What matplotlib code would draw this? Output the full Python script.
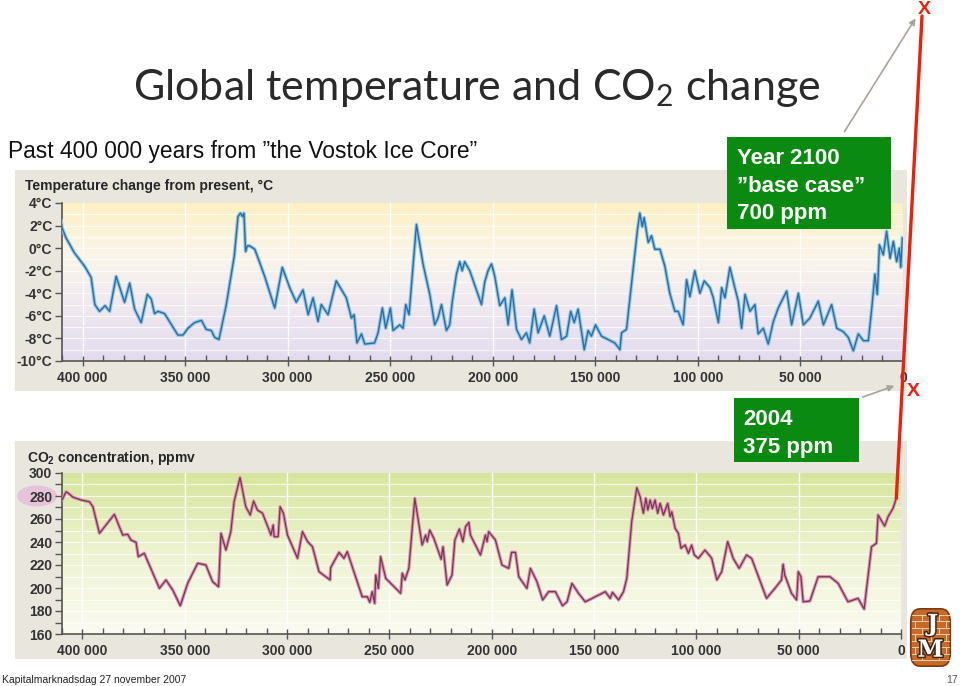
import numpy as np
import matplotlib.pyplot as plt
from matplotlib.colors import LinearSegmentedColormap
from matplotlib.patches import Rectangle, FancyBboxPatch, FancyArrowPatch, ConnectionPatch, Ellipse
from matplotlib.ticker import MultipleLocator, FuncFormatter
import matplotlib.patheffects as pe

plt.rcParams['mathtext.fontset'] = 'custom'
plt.rcParams['mathtext.rm'] = 'Lato'
plt.rcParams['mathtext.bf'] = 'Liberation Sans:bold'

W, H = 960, 686

# Vostok temperature, thousand years before present / deg C
temp_kyr = [410.4, 410.0, 408.0, 404.0, 399.0, 395.8, 394.0, 391.7, 389.0, 386.8,
            383.6, 379.5, 377.0, 374.6, 371.4, 368.4, 366.5, 364.9, 363.2, 360.0,
            357.6, 353.5, 351.0, 348.6, 345.4, 342.0, 339.7, 337.2, 335.6, 333.5,
            330.0, 326.0, 324.2, 323.0, 322.0, 321.3, 320.5, 319.7, 318.5, 316.0,
            311.2, 306.3, 302.6, 299.0, 295.8, 292.5, 290.0, 287.6, 285.2, 283.6,
            280.3, 276.3, 271.4, 268.9, 267.6, 266.2, 264.0, 262.4, 257.6, 255.9,
            253.8, 252.2, 251.0, 249.9, 248.6, 245.4, 243.7, 242.4, 240.8, 237.2,
            234.0, 230.7, 228.3, 226.7, 225.0, 222.6, 221.0, 219.7, 217.7, 216.1,
            214.9, 213.7, 211.2, 208.0, 205.5, 203.9, 202.3, 200.6, 199.0, 196.6,
            194.1, 192.5, 190.6, 188.4, 186.0, 183.6, 182.0, 179.8, 177.9, 174.9,
            172.2, 168.9, 166.5, 164.0, 162.0, 160.3, 158.4, 155.4, 153.5, 151.9,
            149.9, 147.0, 143.7, 140.5, 138.0, 137.2, 134.8, 132.3, 130.7, 129.4,
            128.3, 127.1, 126.2, 124.2, 122.6, 121.0, 118.5, 116.1, 113.7, 111.2,
            109.6, 107.2, 105.5, 103.9, 101.5, 99.0, 96.9, 94.1, 92.5, 90.0,
            88.4, 86.8, 84.4, 82.0, 80.3, 78.7, 77.0, 74.6, 72.2, 70.6,
            68.1, 65.7, 63.2, 60.8, 56.7, 54.3, 51.0, 48.6, 45.4, 41.3,
            38.8, 34.8, 32.3, 29.1, 26.7, 24.2, 21.8, 19.3, 16.9, 15.2,
            13.7, 12.5, 11.5, 9.6, 8.0, 6.3, 4.7, 3.1, 1.8, 1.1, 0.3]
temp_c = [2.4, 1.8, 0.9, -0.4, -1.6, -2.6, -5.0, -5.6, -5.1, -5.6,
          -2.5, -4.8, -3.1, -5.4, -6.6, -4.1, -4.5, -5.8, -5.6, -5.8,
          -6.5, -7.7, -7.7, -7.1, -6.6, -6.4, -7.2, -7.3, -7.9, -8.1,
          -5.1, -0.7, 2.8, 3.1, 2.8, 3.1, -0.3, 0.2, 0.2, -0.1,
          -2.5, -5.3, -1.7, -3.5, -4.8, -3.7, -5.9, -4.4, -6.5, -5.0,
          -5.9, -2.9, -4.4, -6.2, -5.9, -8.4, -7.6, -8.5, -8.4, -7.5,
          -5.3, -7.1, -6.2, -5.3, -7.3, -6.8, -7.1, -5.0, -5.9, 2.1,
          -1.4, -4.1, -6.8, -6.2, -5.0, -7.3, -6.8, -4.7, -2.3, -1.2,
          -2.0, -1.2, -2.0, -3.7, -5.0, -3.0, -2.0, -1.4, -2.5, -5.1,
          -4.4, -6.8, -3.7, -7.2, -8.1, -7.5, -8.4, -5.4, -7.5, -6.0,
          -7.8, -5.1, -8.1, -7.8, -5.6, -6.6, -5.4, -9.0, -7.3, -7.8,
          -6.8, -7.8, -8.1, -8.4, -9.0, -7.5, -7.2, -3.1, -0.4, 1.7,
          3.1, 1.9, 2.7, 0.5, 1.1, -0.1, -0.1, -1.6, -4.0, -5.6,
          -5.6, -6.8, -2.8, -4.3, -2.0, -4.0, -2.9, -3.5, -4.4, -6.6,
          -3.5, -4.4, -1.7, -3.5, -4.7, -7.1, -4.1, -5.6, -5.0, -7.6,
          -7.1, -8.5, -6.5, -5.3, -3.8, -6.8, -4.0, -6.8, -6.2, -4.7,
          -6.8, -5.0, -7.1, -7.4, -7.9, -9.1, -7.6, -8.2, -8.2, -5.3,
          -2.3, -4.1, 0.3, -0.6, 1.5, -0.9, 0.6, -1.2, 0.0, -1.7, 0.9]

# Vostok CO2, thousand years before present / ppmv
co2_kyr = [411.2, 410.0, 408.0, 406.8, 404.7, 400.6, 396.6, 394.9, 391.7, 384.4,
           380.3, 377.9, 376.3, 373.8, 372.7, 369.8, 362.4, 359.2, 355.9, 352.2,
           348.6, 343.7, 339.7, 336.4, 333.5, 332.3, 329.9, 327.5, 325.9, 323.0,
           320.2, 318.0, 316.4, 314.5, 312.0, 308.8, 307.9, 306.8, 306.3, 304.4,
           303.4, 301.8, 299.8, 294.9, 292.5, 290.0, 287.6, 284.4, 279.0, 278.7,
           274.6, 272.2, 270.6, 263.3, 260.8, 259.6, 258.4, 257.2, 256.7, 255.4,
           254.3, 251.8, 244.5, 243.7, 242.4, 240.5, 237.6, 234.0, 232.3, 231.5,
           230.3, 228.3, 224.7, 223.8, 221.8, 219.4, 218.0, 215.8, 214.1, 212.8,
           211.2, 210.4, 205.5, 203.1, 202.3, 201.5, 198.2, 195.0, 191.7, 190.3,
           188.4, 186.8, 182.8, 181.1, 177.9, 175.1, 172.2, 168.9, 165.4, 163.2,
           160.8, 157.6, 154.3, 149.4, 144.5, 142.1, 141.0, 138.0, 135.6, 134.0,
           131.6, 129.1, 127.5, 125.9, 124.7, 123.7, 122.6, 121.5, 120.2, 118.9,
           117.7, 116.1, 114.0, 112.8, 112.0, 110.4, 108.8, 107.5, 105.5, 103.9,
           102.3, 101.0, 99.0, 95.8, 92.5, 90.0, 87.6, 84.7, 82.0, 79.1,
           75.5, 73.0, 65.7, 61.6, 58.4, 57.6, 56.8, 53.5, 51.0, 50.2,
           48.9, 47.8, 44.5, 40.5, 34.7, 30.7, 25.9, 21.0, 18.0, 14.4,
           12.0, 11.2, 8.0, 6.3, 3.9, 2.3]
co2_ppm = [278, 276.5, 283.7, 282.3, 279, 276.5, 275, 270.7, 247.6, 264,
           246, 246.7, 241.7, 239.7, 227.2, 230.2, 199.7, 207, 198.3, 184.6,
           204, 221.5, 220, 205.5, 201.1, 247.6, 233, 249, 275, 296,
           270.7, 263.5, 275.6, 267.8, 265, 250.4, 246, 254.8, 244.6, 244.6,
           270.7, 265, 246, 225.8, 249, 240.3, 235.9, 214.2, 207, 217.7,
           231, 225.8, 231.6, 192.4, 192.4, 187.6, 196.8, 186.7, 211.3, 199.7,
           227.2, 208.4, 195.4, 212.8, 207, 217.1, 278, 237.4, 246, 240.3,
           250.4, 243.2, 225, 235.9, 202.6, 211.3, 241.7, 251.3, 240.3, 253.3,
           257.1, 246, 228.7, 246, 240.3, 249, 241.7, 220, 217.1, 231,
           231, 209.8, 199.7, 217.1, 205.5, 189.6, 196.8, 196.8, 184.6, 188,
           204, 195.4, 188, 192.4, 196.8, 191, 196.2, 189.6, 196.8, 208.4,
           257.7, 287.2, 279.4, 265, 278, 267.8, 276.5, 269, 276.5, 265,
           273.6, 263.5, 273.6, 262, 266.3, 251.9, 247.6, 234.5, 237.4, 230.2,
           237.4, 228.7, 225.8, 233, 225.8, 207, 214.2, 240.3, 225.8, 217.1,
           228.7, 225.8, 191, 199.7, 207, 220.6, 211.3, 195.4, 189.6, 214.2,
           209.8, 188, 188.7, 209.8, 209.8, 204, 188, 191, 181.7, 235.9,
           238.9, 263.5, 253.9, 262, 269.3, 278]

x_ticks = [400000, 350000, 300000, 250000, 200000, 150000, 100000, 50000, 0]
temp_ticks = [4, 2, 0, -2, -4, -6, -8, -10]
co2_ticks = [300, 280, 260, 240, 220, 200, 180, 160]


def rect(l, t, r, b):
    return [l / W, 1 - b / H, (r - l) / W, (b - t) / H]


def fx(x):
    return x / W


def fy(y):
    return 1 - y / H


fig = plt.figure(figsize=(9.6, 6.86), dpi=100, facecolor='white')

# grey panels behind the two charts
for t, b in [(170, 391), (441, 659)]:
    fig.add_artist(Rectangle((fx(15), fy(b)), fx(907) - fx(15), fy(t) - fy(b),
                             transform=fig.transFigure, facecolor='#e9e6de',
                             edgecolor='none', zorder=-3))

fig.add_artist(Ellipse((fx(37), fy(496)), 40 / W, 21 / H, transform=fig.transFigure,
                       facecolor='#e6c3d8', edgecolor='none', zorder=-2))

tick_font = dict(family='Liberation Sans', weight='bold', size=10)


def setup(ax, ylim, yticks, yfmt, colors, hgrid, minor_y=None):
    cmap = LinearSegmentedColormap.from_list('bg', colors)
    grad = np.linspace(0, 1, 256).reshape(-1, 1)
    ax.imshow(grad, extent=[410000, 0, ylim[0], ylim[1]], origin='lower',
              aspect='auto', cmap=cmap, zorder=0)
    ax.set_xlim(410000, 0)
    ax.set_ylim(*ylim)
    ax.patch.set_alpha(0)
    for v in hgrid:
        ax.axhline(v, color='white', lw=0.8, alpha=0.75, zorder=1)
    for v in x_ticks[:-1]:
        ax.axvline(v, color='white', lw=1.0, alpha=0.9, zorder=1)
    for s in ['top', 'right']:
        ax.spines[s].set_visible(False)
    for s in ['left', 'bottom']:
        ax.spines[s].set_color('#555555')
        ax.spines[s].set_linewidth(1.2)
    ax.set_xticks(x_ticks)
    ax.xaxis.set_minor_locator(MultipleLocator(10000))
    ax.xaxis.set_major_formatter(FuncFormatter(
        lambda v, p: '0' if v == 0 else f'{int(v / 1000)} 000'))
    ax.set_yticks(yticks)
    ax.yaxis.set_major_formatter(FuncFormatter(yfmt))
    if minor_y:
        ax.yaxis.set_minor_locator(MultipleLocator(minor_y))
    ax.tick_params(axis='x', which='major', direction='inout', length=7,
                   width=1, color='#555555', pad=4)
    ax.tick_params(axis='x', which='minor', direction='in', length=4,
                   width=1, color='#555555')
    ax.tick_params(axis='y', which='both', direction='out', length=5,
                   width=1, color='#555555', pad=2)
    for lab in ax.get_xticklabels() + ax.get_yticklabels():
        lab.set_fontproperties(tick_font)
        lab.set_color('#333333')


ax1 = fig.add_axes(rect(62, 203, 903, 361))
setup(ax1, (-10, 4), temp_ticks, lambda v, p: f'{int(v)}°C',
      ['#e2dbee', '#efe8f0', '#faf5ea', '#fdf0c4'], range(-9, 4))
x1 = np.array(temp_kyr) * 1000
ax1.plot(x1, temp_c, color='#8fc6ea', lw=2.6, solid_joinstyle='round', zorder=3)
ax1.plot(x1, temp_c, color='#2f6c9c', lw=1.0, solid_joinstyle='round', zorder=4)

ax2 = fig.add_axes(rect(62, 473, 901, 634))
setup(ax2, (160, 300), co2_ticks, lambda v, p: f'{int(v)}',
      ['#fbfbf2', '#eef3d2', '#d6e59c'], range(170, 300, 10), minor_y=10)
x2 = np.array(co2_kyr) * 1000
ax2.plot(x2, co2_ppm, color='#e58cb8', lw=2.4, solid_joinstyle='round', zorder=3)
ax2.plot(x2, co2_ppm, color='#6b3f4a', lw=0.9, solid_joinstyle='round', zorder=4)

label_font = dict(family='Liberation Sans', weight='bold', size=10, color='#262626')
fig.text(fx(25), fy(190), 'Temperature change from present, °C', **label_font)
fig.text(fx(27), fy(462), r'CO$_\mathbf{2}$ concentration, ppmv', **label_font)

# titles
fig.text(fx(477), fy(100), r'Global temperature and CO$_2$ change', family='Lato',
         size=31, color='#2a2a2a', ha='center', va='baseline')
fig.text(fx(8), fy(158), 'Past 400 000 years from \u201dthe Vostok Ice Core\u201d',
         family='Liberation Sans', size=16.4, color='#111111', va='baseline')

# green annotation boxes
green = '#0b8a12'
box_font = dict(family='Liberation Sans', weight='bold', size=16, color='white',
                va='baseline', zorder=8)
fig.add_artist(Rectangle((fx(727), fy(229)), fx(891) - fx(727), fy(137) - fy(229),
                         transform=fig.transFigure, facecolor=green,
                         edgecolor='none', zorder=7))
for i, line in enumerate(['Year 2100', '\u201dbase case\u201d', '700 ppm']):
    fig.text(fx(737), fy(164 + 27.5 * i), line, **box_font)

fig.add_artist(Rectangle((fx(734), fy(462)), fx(859) - fx(734), fy(398) - fy(462),
                         transform=fig.transFigure, facecolor=green,
                         edgecolor='none', zorder=7))
for i, line in enumerate(['2004', '375 ppm']):
    fig.text(fx(743), fy(425 + 27.5 * i), line, **box_font)

# red projection line from the last CO2 point to the 2100 mark
red = '#e8220c'
con = ConnectionPatch(xyA=(x2[-1], co2_ppm[-1]), coordsA=ax2.transData,
                      xyB=(fx(922), fy(16)), coordsB=fig.transFigure,
                      color=red, lw=2.4, zorder=6)
fig.add_artist(con)

for (xa, ya), (xb, yb) in [((843, 134), (917, 16)), ((860, 398), (897, 385))]:
    fig.add_artist(FancyArrowPatch((fx(xa), fy(ya)), (fx(xb), fy(yb)),
                                   transform=fig.transFigure, arrowstyle='-|>',
                                   mutation_scale=9, color='#a8a29a', lw=1.2,
                                   zorder=6))

for xx, yy in [(924, 10), (913, 391)]:
    fig.text(fx(xx), fy(yy), 'X', family='Liberation Sans', weight='bold', size=14,
             color=red, ha='center', va='center', zorder=9)

# JM logo
lax = fig.add_axes(rect(909, 607, 952, 668))
lax.set_xlim(0, 1)
lax.set_ylim(0, 1)
lax.axis('off')
lax.add_patch(FancyBboxPatch((0.04, 0.03), 0.92, 0.94,
                             boxstyle='round,pad=0,rounding_size=0.22',
                             facecolor='#c76a28', edgecolor='#7a3a12', lw=1.2))
rows = np.linspace(0.13, 0.87, 8)
for i, yv in enumerate(rows):
    lax.plot([0.08, 0.92], [yv, yv], color='#f1cda6', lw=0.7)
    if i < len(rows) - 1:
        for xv in ([0.3, 0.7] if i % 2 == 0 else [0.15, 0.5, 0.85]):
            lax.plot([xv, xv], [yv, rows[i + 1]], color='#f1cda6', lw=0.7)
stroke = [pe.withStroke(linewidth=2.2, foreground='#3e2410')]
lax.text(0.55, 0.72, 'J', family='DejaVu Serif', weight='bold', size=17,
         color='white', ha='center', va='center', path_effects=stroke)
lax.text(0.5, 0.3, 'M', family='DejaVu Serif', weight='bold', size=17,
         color='white', ha='center', va='center', path_effects=stroke)

# footer
fig.text(fx(2), fy(683), 'Kapitalmarknadsdag 27 november 2007', family='Liberation Sans',
         size=7.5, color='#222222', va='baseline')
fig.text(fx(958), fy(683), '17', family='Liberation Sans', size=7.5, color='#555555',
         ha='right', va='baseline')

fig.savefig('out.png', dpi=100, facecolor='white')
